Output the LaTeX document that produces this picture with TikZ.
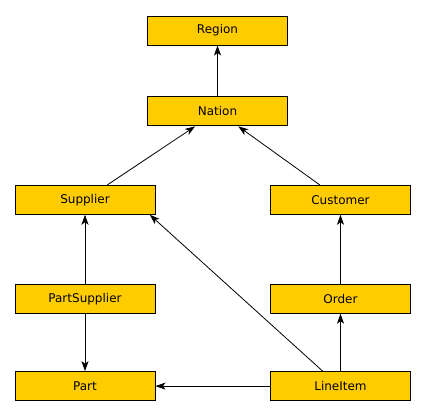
\documentclass[tikz,border=0pt]{standalone}
\usepackage{fontspec}
\setmainfont{DejaVu Sans}
\usetikzlibrary{arrows.meta, positioning}
\definecolor{amarilloTabla}{HTML}{FFCC00}

\begin{document}
\begin{tikzpicture}[
        x=1pt, y=1pt,
        tabla/.style={draw=black, fill=amarilloTabla, line width=0.9pt,
            minimum width=140pt, minimum height=29pt, inner sep=0pt,
            font=\fontsize{12}{14}\selectfont},
        ref/.style={-{Stealth[length=10pt, width=7pt, inset=2.5pt]}, line width=0.8pt, black}
    ]
        \useasboundingbox (0,0) rectangle (425,-417);
        \node[tabla] (region) at (217.5,-30.5) {Region};
        \node[tabla, below=51pt of region] (nation) {Nation};
        \node[tabla, below=58.5pt of nation, xshift=-132.5pt] (supplier) {Supplier};
        \node[tabla, below=58.5pt of nation, xshift=123pt] (customer) {Customer};
        \node[tabla, below=69pt of supplier] (partsupplier) {PartSupplier};
        \node[tabla, below=69pt of customer] (order) {Order};
        \node[tabla, below=57.5pt of partsupplier] (part) {Part};
        \node[tabla, below=57.5pt of order] (lineitem) {LineItem};

        \draw[ref] (nation) -- (region);
        \draw[ref] (supplier) -- (nation);
        \draw[ref] (customer) -- (nation);
        \draw[ref] (partsupplier) -- (supplier);
        \draw[ref] (partsupplier) -- (part);
        \draw[ref] (order) -- (customer);
        \draw[ref] (lineitem) -- (order);
        \draw[ref] (lineitem) -- (part);
        \draw[ref] (lineitem.140) -- (supplier.-13);
    \end{tikzpicture}
\end{document}
